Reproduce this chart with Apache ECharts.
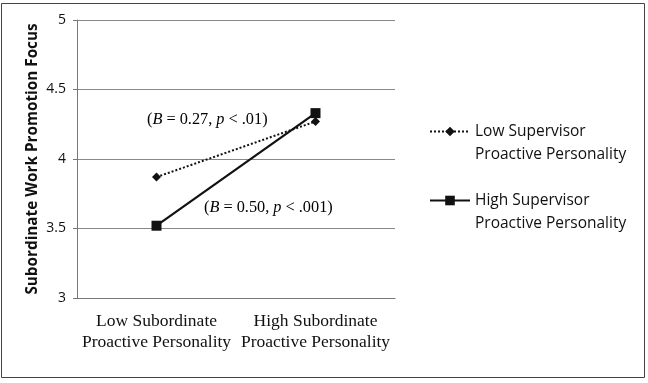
<!DOCTYPE html>
<html><head><meta charset="utf-8">
<script src="https://cdn.jsdelivr.net/npm/echarts@6/dist/echarts.min.js"></script>
<style>html,body{margin:0;padding:0;background:#fff}#c{width:648px;height:383px}</style>
</head><body><div id="c"></div>
<script>
var categories = ['Low Subordinate\nProactive Personality', 'High Subordinate\nProactive Personality'];
var lowSupervisor = [3.87, 4.27];
var highSupervisor = [3.52, 4.33];
var seriesNames = ['Low Supervisor\nProactive Personality', 'High Supervisor\nProactive Personality'];
var yTicks = [3, 3.5, 4, 4.5, 5];
var yTitle = 'Subordinate Work Promotion Focus';

var chart = echarts.init(document.getElementById('c'));
var serifRich = {
  n: {fontFamily: 'Liberation Serif', fontSize: 16.3, color: '#111'},
  i: {fontFamily: 'Liberation Serif', fontStyle: 'italic', fontSize: 16.3, color: '#111'}
};
chart.setOption({
  animation: false,
  backgroundColor: '#fff',
  grid: {left: 77, right: 253, top: 20, bottom: 85},
  xAxis: {
    type: 'category', data: categories, boundaryGap: true,
    axisLine: {show: true, lineStyle: {color: '#777', width: 1}},
    axisTick: {show: false},
    axisLabel: {fontFamily: 'Liberation Serif', fontSize: 17.5, color: '#111', lineHeight: 21, margin: 13, interval: 0}
  },
  yAxis: {
    type: 'value', min: yTicks[0], max: yTicks[yTicks.length - 1], interval: 0.5,
    name: yTitle, nameLocation: 'middle', nameGap: 37, nameRotate: 90,
    nameTextStyle: {fontFamily: 'Open Sans', fontWeight: 'bold', fontSize: 15.3, color: '#111'},
    axisLine: {show: true, lineStyle: {color: '#777', width: 1}},
    axisTick: {show: true, length: 4, lineStyle: {color: '#777'}},
    axisLabel: {fontFamily: 'Open Sans', fontSize: 14, color: '#111', margin: 11,
      formatter: function (v) { return String(v); }},
    splitLine: {show: true, lineStyle: {color: '#888', width: 1}}
  },
  legend: {
    orient: 'vertical', left: 424, top: 92, itemGap: 0,
    itemWidth: 40, itemHeight: 12,
    formatter: function (name) { return '\n' + name; },
    textStyle: {fontFamily: 'Open Sans', fontSize: 15.5, color: '#111', lineHeight: 23},
    data: seriesNames
  },
  series: [
    {name: seriesNames[0], type: 'line', data: lowSupervisor, symbol: 'diamond', symbolSize: 9,
      itemStyle: {color: '#111'}, lineStyle: {color: '#111', width: 2, type: [2, 2]}},
    {name: seriesNames[1], type: 'line', data: highSupervisor, symbol: 'rect', symbolSize: 10,
      itemStyle: {color: '#111'}, lineStyle: {color: '#111', width: 2.2, type: 'solid'}}
  ],
  graphic: [
    {type: 'rect', shape: {x: 1.5, y: 3.5, width: 643, height: 374},
      style: {fill: 'none', stroke: '#444', lineWidth: 1}, silent: true},
    {type: 'text', left: 147, top: 112,
      style: {text: '{n|(}{i|B}{n| = 0.27, }{i|p}{n| < .01)}', rich: serifRich}},
    {type: 'text', left: 204, top: 200,
      style: {text: '{n|(}{i|B}{n| = 0.50, }{i|p}{n| < .001)}', rich: serifRich}}
  ]
});
</script></body></html>
